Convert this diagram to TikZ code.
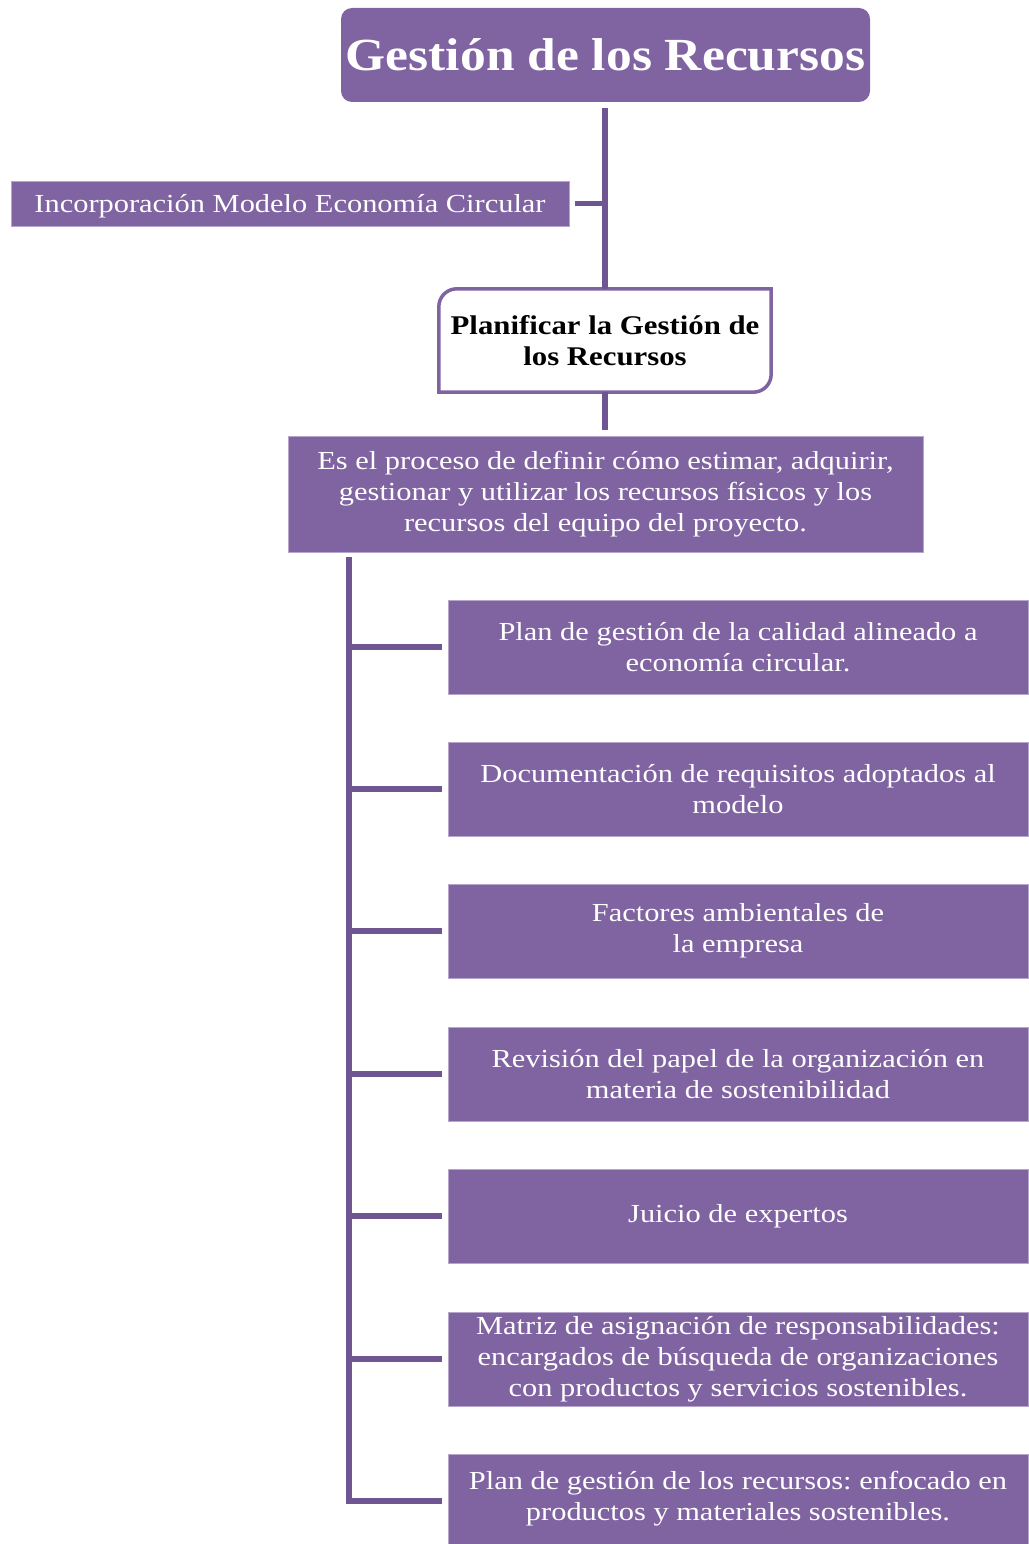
\documentclass[tikz,border=0pt]{standalone}
\usepackage{fontspec}
\setmainfont[FakeStretch=1.17]{Liberation Serif}
\newfontfamily\titlefont[FakeStretch=1.12]{Liberation Serif}
\newfontfamily\planfont[FakeStretch=1.14]{Liberation Serif}
\usetikzlibrary{calc}
\definecolor{boxpurple}{HTML}{8064A2}
\definecolor{linepurple}{HTML}{6F5592}
\definecolor{edgepurple}{HTML}{B6A6CB}
\tikzset{
  pbox/.style={fill=boxpurple, draw=edgepurple, line width=0.8pt, text=white, align=center, inner sep=0pt, font=\fontsize{26}{31}\selectfont\frenchspacing},
  conn/.style={draw=linepurple, line width=5.5pt},
  child/.style={pbox, minimum width=580pt, minimum height=94pt},
}
\begin{document}
\begin{tikzpicture}[x=1pt,y=-1pt]
\useasboundingbox (0,0) rectangle (1028,1544);
% title
\node[fill=boxpurple, rounded corners=11pt, minimum width=529pt, minimum height=94pt, inner sep=0pt, text=white, font=\titlefont\fontsize{46}{52}\selectfont\bfseries] (title) at (605.5,55) {Gestión de los Recursos};
% incorporacion
\node[fill=boxpurple, draw=edgepurple, line width=0.8pt, minimum width=558pt, minimum height=45pt, inner sep=0pt] (inc) at (290,203.5) {};
\node[text=white, inner sep=0pt, font=\fontsize{26}{31}\selectfont] (inctext) at (290,206) {Incorporación Modelo Economía Circular};
% planificar
\node[minimum width=332pt, minimum height=103pt, inner sep=0pt] (plan) at (605,340.5) {};
\draw[draw=boxpurple, line width=3.5pt, fill=white]
  (plan.south west) -- ($(plan.north west)+(0,18)$)
  .. controls ($(plan.north west)+(0,8)$) and ($(plan.north west)+(8,0)$) .. ($(plan.north west)+(18,0)$)
  -- (plan.north east) -- ($(plan.south east)+(0,-18)$)
  .. controls ($(plan.south east)+(0,-8)$) and ($(plan.south east)+(-8,0)$) .. ($(plan.south east)+(-18,0)$) -- cycle;
\node[inner sep=0pt, align=center, font=\planfont\fontsize{27}{31}\selectfont\bfseries] (plantext) at (plan.center) {Planificar la Gestión de\\los Recursos};
% definition
\node[pbox, minimum width=635pt, minimum height=116pt] (def) at (605.5,494) {Es el proceso de definir cómo estimar, adquirir,\\gestionar y utilizar los recursos físicos y los\\recursos del equipo del proyecto.};
% children
\node[child] (c1) at (738,647) {Plan de gestión de la calidad alineado a\\economía circular.};
\node[child] (c2) at (738,789) {Documentación de requisitos adoptados al\\modelo};
\node[child] (c3) at (738,931) {Factores ambientales de\\la empresa};
\node[child] (c4) at (738,1074) {Revisión del papel de la organización en\\materia de sostenibilidad};
\node[child] (c5) at (738,1216) {Juicio de expertos};
\node[child] (c6) at (738,1359) {Matriz de asignación de responsabilidades:\\encargados de búsqueda de organizaciones\\con productos y servicios sostenibles.};
\node[child, minimum height=90pt] (c7) at (738,1499) {Plan de gestión de los recursos: enfocado en\\productos y materiales sostenibles.};
% connectors
\coordinate (trunktop) at (349,557);
\coordinate (trunkbot) at (349,1501);
\coordinate (titlebot) at (605,108);
\draw[conn] (titlebot) -- (plan.north);
\draw[conn] ($(inc.east)+(6,0)$) -- (inc.east -| titlebot);
\draw[conn] (plan.south) -- ($(def.north)+(-0.5,-6)$);
\foreach \c in {c1,c2,c3,c4,c5,c6} {
  \draw[conn] (trunktop |- \c.west) -- ($(\c.west)+(-6,0)$);
}
\draw[conn, line join=miter] (trunktop) -- (trunkbot) -- ($(trunkbot -| c7.west)+(-6,0)$);
\end{tikzpicture}
\end{document}
